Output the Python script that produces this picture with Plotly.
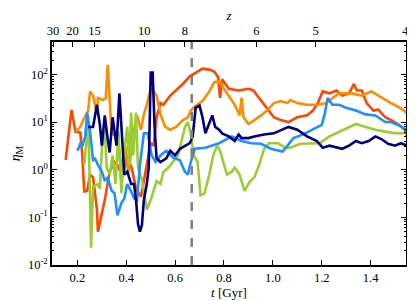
import numpy as np
import plotly.graph_objects as go

# ---------------- data ----------------
t_red = [0.152, 0.176, 0.192, 0.212, 0.22, 0.228, 0.24, 0.252, 0.264, 0.28, 0.284, 0.30, 0.312,
         0.332, 0.352, 0.364, 0.384, 0.404, 0.424, 0.44, 0.46, 0.472, 0.492, 0.50, 0.512, 0.524,
         0.54, 0.552, 0.58, 0.604, 0.632, 0.66, 0.684, 0.712, 0.74, 0.76, 0.776, 0.784, 0.792,
         0.82, 0.86, 0.90, 0.92, 0.944, 0.98, 1.004, 1.032, 1.064, 1.10, 1.14, 1.164, 1.184,
         1.204, 1.232, 1.26, 1.284, 1.312, 1.332, 1.344, 1.364, 1.384, 1.412, 1.432, 1.46,
         1.484, 1.512, 1.54, 1.55]
v_red = [1.6, 18, 6.3, 6.0, 2.0, 0.35, 0.36, 0.79, 0.69, 0.145, 0.05, 0.126, 0.23,
         0.91, 1.45, 1.26, 0.72, 2.0, 1.0, 0.4, 0.27, 0.58, 2.3, 3.6, 3.2, 12.6,
         25, 23, 36, 46, 63, 91, 110, 132, 126, 115, 87, 32, 79,
         50, 46, 50, 46, 32, 18, 12.6, 11, 10, 12.6, 13.8, 17.4, 25,
         44, 40, 46, 36, 40, 63, 46, 46, 25, 17.4, 18.2, 12.6,
         11, 9.1, 6.9, 5.0]

t_orange = [0.192, 0.212, 0.224, 0.244, 0.252, 0.264, 0.28, 0.284, 0.304, 0.316, 0.324, 0.34,
            0.36, 0.372, 0.384, 0.396, 0.408, 0.432, 0.444, 0.46, 0.472, 0.484, 0.50, 0.512,
            0.524, 0.54, 0.56, 0.58, 0.604, 0.632, 0.652, 0.664, 0.684, 0.712, 0.74, 0.76,
            0.78, 0.792, 0.82, 0.844, 0.864, 0.872, 0.88, 0.90, 0.924, 0.952, 0.98, 1.004,
            1.032, 1.06, 1.072, 1.10, 1.14, 1.18, 1.22, 1.244, 1.272, 1.324, 1.364, 1.404,
            1.432, 1.46, 1.484, 1.52, 1.548]
v_orange = [6.3, 7.9, 11, 17.4, 44, 36, 14.5, 32, 29, 32, 158, 5.8,
            5.0, 2.0, 1.0, 3.2, 0.8, 6.9, 13.8, 6.9, 14.5, 23, 50, 44,
            36, 14.5, 7.9, 6.9, 7.9, 11, 12.6, 17.4, 22, 27.5, 44, 69,
            72, 58, 36, 23, 13.8, 32, 12.6, 9.1, 11, 13.8, 18.2, 25,
            27.5, 25, 29, 25, 23, 23, 25, 32, 40, 40, 36, 44,
            36, 29, 25, 20, 15.8]

t_blue = [0.20, 0.212, 0.22, 0.232, 0.24, 0.252, 0.264, 0.272, 0.284, 0.30, 0.312, 0.324,
          0.34, 0.352, 0.364, 0.38, 0.392, 0.404, 0.42, 0.432, 0.444, 0.456, 0.472, 0.488,
          0.504, 0.52, 0.54, 0.564, 0.592, 0.62, 0.64, 0.652, 0.664, 0.68, 0.724, 0.78,
          0.832, 0.872, 0.912, 0.952, 0.992, 1.04, 1.06, 1.084, 1.124, 1.164, 1.20, 1.212,
          1.224, 1.244, 1.272, 1.30, 1.34, 1.38, 1.42, 1.46, 1.484, 1.512, 1.54, 1.56]
v_blue = [2.5, 3.5, 3.2, 5.0, 15.8, 6.3, 1.6, 1.7, 1.26, 0.91, 0.58, 0.69,
          0.36, 0.32, 0.11, 0.2, 0.25, 0.5, 0.35, 0.25, 0.23, 1.26, 5.8, 5.8,
          2.0, 1.45, 2.0, 2.5, 1.8, 1.58, 0.91, 0.79, 1.45, 2.75, 2.9, 3.6,
          5.0, 4.0, 3.6, 3.5, 2.75, 2.4, 3.2, 4.6, 5.5, 6.9, 8.7, 14.5,
          32, 23, 23, 20, 17.4, 14.5, 13.8, 10, 10, 8.7, 7.2, 5.8]

t_green = [0.228, 0.236, 0.244, 0.248, 0.256, 0.264, 0.284, 0.292, 0.30, 0.312, 0.32, 0.332,
           0.344, 0.356, 0.368, 0.38, 0.392, 0.404, 0.412, 0.42, 0.428, 0.44, 0.448, 0.464,
           0.484, 0.50, 0.512, 0.524, 0.54, 0.552, 0.572, 0.592, 0.612, 0.624, 0.64, 0.652,
           0.664, 0.676, 0.692, 0.704, 0.72, 0.74, 0.756, 0.772, 0.784, 0.792, 0.812, 0.832,
           0.844, 0.864, 0.884, 0.904, 0.924, 0.944, 0.964, 0.984, 1.02, 1.052, 1.072, 1.112,
           1.152, 1.192, 1.232, 1.272, 1.312, 1.34, 1.38, 1.42, 1.46, 1.50, 1.55]
v_green = [1.26, 3.2, 10, 2.0, 0.023, 0.44, 0.5, 0.4, 2.75, 6.9, 1.1, 0.79,
           2.0, 0.5, 6.3, 0.32, 2.5, 7.9, 1.26, 15.8, 2.0, 15.8, 1.1, 0.63,
           0.145, 0.23, 0.36, 0.58, 0.5, 0.91, 1.1, 1.45, 2.0, 3.6, 7.9, 10,
           5.8, 2.0, 1.45, 0.29, 0.32, 0.79, 2.0, 3.2, 2.5, 1.8, 0.79, 0.91,
           1.1, 0.79, 0.36, 0.55, 0.69, 1.26, 2.75, 3.6, 3.6, 2.9, 2.9, 3.5,
           3.6, 3.6, 5.0, 6.3, 7.9, 9.1, 7.9, 6.9, 6.3, 5.8, 5.8]

t_navy = [0.244, 0.252, 0.264, 0.28, 0.292, 0.30, 0.312, 0.324, 0.332, 0.344, 0.36, 0.372,
          0.384, 0.392, 0.404, 0.42, 0.432, 0.44, 0.448, 0.456, 0.464, 0.472, 0.484, 0.492,
          0.50, 0.508, 0.516, 0.524, 0.54, 0.564, 0.58, 0.60, 0.62, 0.644, 0.66, 0.672,
          0.684, 0.70, 0.712, 0.724, 0.74, 0.752, 0.764, 0.78, 0.792, 0.82, 0.844, 0.86,
          0.872, 0.90, 0.924, 0.964, 1.004, 1.044, 1.064, 1.10, 1.14, 1.18, 1.204, 1.232,
          1.26, 1.284, 1.312, 1.34, 1.364, 1.392, 1.42, 1.444, 1.472, 1.50, 1.524, 1.552]
v_navy = [7.9, 7.9, 7.9, 23, 8.7, 3.2, 13.8, 4.4, 2.3, 12.6, 3.2, 40,
          3.2, 0.79, 0.91, 0.5, 0.5, 0.23, 0.072, 0.05, 0.069, 0.23, 0.5, 1.1,
          110, 110, 7.9, 1.74, 1.45, 1.74, 2.5, 2.0, 2.75, 3.2, 3.6, 5.0,
          20, 22, 12.6, 5.8, 9.1, 13.8, 7.9, 6.9, 5.8, 5.0, 4.0, 5.5,
          4.6, 4.6, 5.0, 5.5, 5.8, 7.2, 7.9, 6.9, 5.0, 4.0, 2.9, 3.2,
          2.9, 2.75, 3.2, 4.0, 3.6, 4.0, 5.0, 4.4, 3.5, 3.2, 3.6, 3.2]

z_ticks = [30, 20, 15, 10, 8, 6, 5, 4]
z_labels = ["30", "20", "15", "10", "8", "6", "5", "4"]
y_tick_vals = [1e-2, 1e-1, 1, 10, 100]
y_tick_text = ["10<sup>-2</sup>", "10<sup>-1</sup>", "10<sup>0</sup>", "10<sup>1</sup>", "10<sup>2</sup>"]
x_tick_vals = [0.2, 0.4, 0.6, 0.8, 1.0, 1.2, 1.4]
x_tick_text = ["0.2", "0.4", "0.6", "0.8", "1.0", "1.2", "1.4"]
dashed_t = 0.668
x_range = [0.096, 1.545]
y_range_log = [-2, 2.68]


def age_gyr(z, h0=67.7, om=0.31):
    ol = 1.0 - om
    th = 977.8 / h0
    return 2.0 / (3.0 * np.sqrt(ol)) * th * np.arcsinh(np.sqrt(ol / om) * (1.0 + np.asarray(z, float)) ** -1.5)


z_pos = list(age_gyr(z_ticks))
minor_vals = [m * 10.0 ** d for d in range(-2, 3) for m in range(2, 10) if m * 10.0 ** d < 10 ** y_range_log[1]]

series = [
    (t_red, v_red, "#FF4500"),
    (t_orange, v_orange, "#FF8C00"),
    (t_green, v_green, "#9ACD32"),
    (t_blue, v_blue, "#1E90FF"),
    (t_navy, v_navy, "#000080"),
]

fig = go.Figure()
for tx, vy, col in series:
    fig.add_trace(go.Scatter(x=tx, y=vy, mode="lines", line=dict(color=col, width=2.6),
                             showlegend=False, hoverinfo="skip"))

# vertical dashed marker, drawn on the top (z) axis so that axis is present
fig.add_trace(go.Scatter(x=[dashed_t, dashed_t], y=[10 ** y_range_log[0], 10 ** y_range_log[1]],
                         mode="lines", line=dict(color="#808080", width=2.6, dash="dash"),
                         xaxis="x2", showlegend=False, hoverinfo="skip"))

font = "Liberation Serif"
# the page body adds an 8px offset, so the figure is sized 8px smaller on each side
fig.update_layout(
    width=407, height=293,
    margin=dict(l=38, r=6, t=24, b=35),
    paper_bgcolor="white", plot_bgcolor="white",
    font=dict(family=font, size=12.5, color="black"),
    xaxis=dict(range=x_range, tickmode="array", tickvals=x_tick_vals, ticktext=x_tick_text,
               ticks="inside", ticklen=5, tickwidth=1.2, tickcolor="black",
               showline=True, linecolor="black", linewidth=1.5, mirror=False,
               showgrid=False, zeroline=False,
               title=dict(text="<i>t</i> [Gyr]", standoff=1, font=dict(size=13))),
    xaxis2=dict(range=x_range, overlaying="x", side="top", anchor="y",
                tickmode="array", tickvals=z_pos, ticktext=z_labels,
                ticks="inside", ticklen=5, tickwidth=1.2, tickcolor="black",
                showline=True, linecolor="black", linewidth=1.5,
                showgrid=False, zeroline=False,
                title=dict(text="<i>z</i>", standoff=1, font=dict(size=13))),
    yaxis=dict(type="log", range=y_range_log, tickmode="array", tickvals=y_tick_vals, ticktext=y_tick_text,
               ticks="inside", ticklen=5, tickwidth=1.2, tickcolor="black",
               minor=dict(tickmode="array", tickvals=minor_vals, ticks="inside", ticklen=2.5,
                          tickwidth=1, tickcolor="black", showgrid=False),
               showline=True, linecolor="black", linewidth=1.5, mirror="ticks",
               showgrid=False, zeroline=False,
               title=dict(text="<i>η</i><sub>M</sub>", standoff=4, font=dict(size=14))),
)

fig.write_html("out.html")
